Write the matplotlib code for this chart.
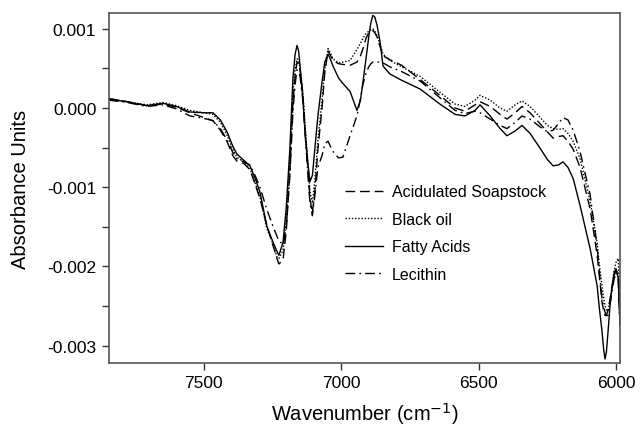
import matplotlib
matplotlib.use("Agg")
import matplotlib.pyplot as plt
from matplotlib.ticker import MultipleLocator, FuncFormatter

plt.rcParams['font.family'] = ['Liberation Sans', 'DejaVu Sans']

# wavenumber grid (cm-1)
wavenumber = [7846, 7780, 7708, 7649, 7600, 7551, 7500, 7467, 7440, 7416,
              7395, 7380, 7355, 7332, 7310, 7296, 7271, 7250, 7234, 7227,
              7212, 7200, 7187, 7176, 7168, 7161, 7155, 7150, 7140, 7132,
              7122, 7114, 7105, 7096, 7085, 7070, 7060, 7048, 7040, 7030,
              7010, 6994, 6968, 6943, 6930, 6921, 6910, 6900, 6892, 6885,
              6878, 6870, 6859, 6848, 6823, 6780, 6713, 6641, 6586, 6550,
              6513, 6495, 6458, 6422, 6397, 6367, 6342, 6313, 6276, 6250,
              6229, 6210, 6193, 6175, 6156, 6131, 6094, 6069, 6060, 6051,
              6045, 6040, 6035, 6029, 6022, 6014, 6007, 6000, 5992, 5986]

fatty_acids = [0.00011, 0.00008, 0.00003, 0.00006, 0.00002, -0.00005, -0.00006, -0.00006, -0.00015, -0.00030,
               -0.00048, -0.00058, -0.00066, -0.00073, -0.00092, -0.00106, -0.00149, -0.00168, -0.00181, -0.00186,
               -0.00170, -0.00125, -0.00051, 0.00037, 0.00068, 0.00079, 0.00072, 0.00053, 0.00015, -0.00030,
               -0.00068, -0.00093, -0.00085, -0.00051, -0.00010, 0.00033, 0.00058, 0.00068, 0.00062, 0.00053,
               0.00038, 0.00031, 0.00021, -0.00003, 0.00010, 0.00033, 0.00062, 0.00090, 0.00108, 0.00117,
               0.00115, 0.00105, 0.00084, 0.00053, 0.00043, 0.00035, 0.00024, 0.00005, -0.00008, -0.00010,
               -0.00003, 0.00004, -0.00010, -0.00026, -0.00035, -0.00029, -0.00022, -0.00032, -0.00051, -0.00065,
               -0.00073, -0.00072, -0.00068, -0.00075, -0.00089, -0.00123, -0.00178, -0.00224, -0.00255, -0.00282,
               -0.00305, -0.00317, -0.00308, -0.00282, -0.00250, -0.00224, -0.00208, -0.00203, -0.00215, -0.00270]

black_oil = [0.00012, 0.00008, 0.00004, 0.00007, 0.00003, -0.00003, -0.00006, -0.00008, -0.00018, -0.00034,
             -0.00052, -0.00062, -0.00068, -0.00076, -0.00098, -0.00112, -0.00152, -0.00170, -0.00188, -0.00190,
             -0.00180, -0.00140, -0.00065, 0.00020, 0.00048, 0.00062, 0.00060, 0.00050, 0.00020, -0.00020,
             -0.00068, -0.00105, -0.00120, -0.00090, -0.00040, 0.00010, 0.00050, 0.00075, 0.00070, 0.00062,
             0.00057, 0.00058, 0.00060, 0.00074, 0.00082, 0.00088, 0.00094, 0.00097, 0.00099, 0.00100,
             0.00097, 0.00092, 0.00080, 0.00068, 0.00060, 0.00052, 0.00040, 0.00020, 0.00005, 0.00002,
             0.00010, 0.00016, 0.00010, 0.00000, -0.00004, 0.00004, 0.00009, 0.00002, -0.00012, -0.00022,
             -0.00026, -0.00027, -0.00026, -0.00032, -0.00042, -0.00064, -0.00118, -0.00170, -0.00200, -0.00225,
             -0.00240, -0.00250, -0.00255, -0.00256, -0.00242, -0.00225, -0.00205, -0.00195, -0.00190, -0.00260]

acidulated_soapstock = [0.00012, 0.00008, 0.00003, 0.00005, 0.00001, -0.00006, -0.00012, -0.00016, -0.00028, -0.00042,
                        -0.00060, -0.00067, -0.00070, -0.00078, -0.00100, -0.00114, -0.00148, -0.00172, -0.00190, -0.00197,
                        -0.00192, -0.00155, -0.00080, 0.00005, 0.00040, 0.00058, 0.00056, 0.00048, 0.00016, -0.00025,
                        -0.00075, -0.00115, -0.00132, -0.00105, -0.00052, 0.00000, 0.00045, 0.00072, 0.00067, 0.00060,
                        0.00056, 0.00055, 0.00054, 0.00058, 0.00066, 0.00075, 0.00088, 0.00095, 0.00097, 0.00098,
                        0.00095, 0.00090, 0.00078, 0.00066, 0.00061, 0.00054, 0.00036, 0.00016, 0.00000, -0.00004,
                        0.00004, 0.00008, 0.00002, -0.00008, -0.00014, -0.00006, 0.00002, -0.00006, -0.00020, -0.00030,
                        -0.00038, -0.00036, -0.00035, -0.00042, -0.00052, -0.00075, -0.00128, -0.00185, -0.00215, -0.00245,
                        -0.00256, -0.00262, -0.00262, -0.00255, -0.00242, -0.00225, -0.00212, -0.00205, -0.00210, -0.00270]

lecithin = [0.00010, 0.00007, 0.00002, 0.00004, -0.00001, -0.00010, -0.00013, -0.00016, -0.00026, -0.00040,
            -0.00056, -0.00064, -0.00068, -0.00072, -0.00088, -0.00100, -0.00128, -0.00148, -0.00162, -0.00168,
            -0.00172, -0.00150, -0.00085, -0.00005, 0.00030, 0.00048, 0.00046, 0.00040, 0.00010, -0.00030,
            -0.00080, -0.00120, -0.00136, -0.00110, -0.00075, -0.00060, -0.00045, -0.00042, -0.00048, -0.00055,
            -0.00063, -0.00062, -0.00035, -0.00010, 0.00012, 0.00030, 0.00044, 0.00052, 0.00056, 0.00058,
            0.00058, 0.00058, 0.00058, 0.00057, 0.00052, 0.00046, 0.00034, 0.00013, -0.00003, -0.00007,
            -0.00004, -0.00006, -0.00014, -0.00022, -0.00026, -0.00018, -0.00010, -0.00014, -0.00024, -0.00030,
            -0.00028, -0.00020, -0.00012, -0.00015, -0.00028, -0.00055, -0.00110, -0.00175, -0.00210, -0.00240,
            -0.00252, -0.00258, -0.00262, -0.00262, -0.00248, -0.00230, -0.00216, -0.00208, -0.00212, -0.00275]

fig = plt.figure(figsize=(6.4, 4.31), dpi=100)
ax = fig.add_axes([0.170, 0.1555, 0.799, 0.812])

lw = 1.0
ax.plot(wavenumber, acidulated_soapstock, color='black', lw=lw, dashes=(7, 3.5),
        label='Acidulated Soapstock')
ax.plot(wavenumber, black_oil, color='black', lw=lw, dashes=(1, 1.3), label='Black oil')
ax.plot(wavenumber, fatty_acids, color='black', lw=lw, label='Fatty Acids')
ax.plot(wavenumber, lecithin, color='black', lw=lw, dashes=(7, 3, 1.2, 3), label='Lecithin')

ax.set_xlim(7846, 5985)
ax.set_ylim(-0.00322, 0.0012)

ax.xaxis.set_major_locator(MultipleLocator(500))
ax.yaxis.set_major_locator(MultipleLocator(0.001))
ax.yaxis.set_minor_locator(MultipleLocator(0.0005))
ax.yaxis.set_major_formatter(FuncFormatter(lambda v, p: f"{round(v, 6) + 0.0:.3f}"))

ax.tick_params(axis='both', which='both', direction='out', length=5, width=1,
               color='#333333', labelsize=12.5, pad=4)

for s in ax.spines.values():
    s.set_color('#555555')
    s.set_linewidth(1.2)

ax.set_xlabel('Wavenumber (cm$^{-1}$)', fontsize=14.5, labelpad=7)
ax.set_ylabel('Absorbance Units', fontsize=14.5, labelpad=12)

ax.legend(loc='center left', bbox_to_anchor=(0.462, 0.371), frameon=False,
          fontsize=11.5, borderpad=0, borderaxespad=0, handlelength=2.4,
          handletextpad=0.55, labelspacing=0.78)

fig.savefig('out.png', dpi=100)
